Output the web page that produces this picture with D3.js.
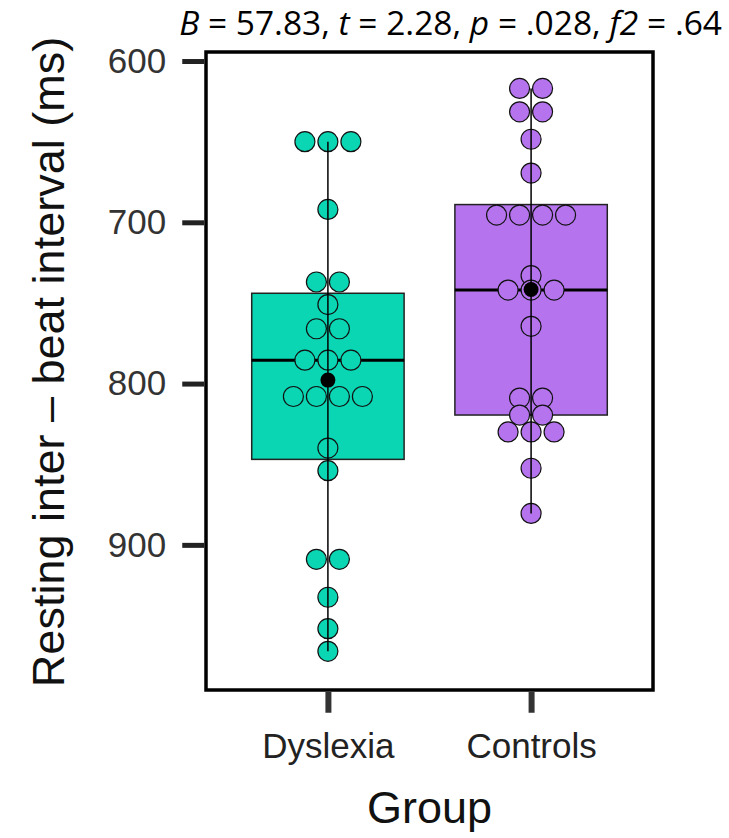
<!DOCTYPE html>
<html>
<head>
<meta charset="utf-8">
<script src="https://cdn.jsdelivr.net/npm/d3@7"></script>
<style>
  body { margin: 0; background: #fff; }
  svg { display: block; }
</style>
</head>
<body>
<div class="chart"></div>
<script>
// groups and their raw values (resting inter-beat interval, ms)
let groups = ["Dyslexia", "Controls"];
let dyslexiaIBI = [650, 650, 650, 692, 737, 737, 751, 766, 766, 785.5, 785.5, 785.5,
    808, 808, 808, 808, 840, 854, 909, 909, 932.5, 952, 966];
let controlsIBI = [617, 617, 631.5, 631.5, 648.5, 669.5, 695.5, 695.5, 695.5, 695.5,
    733, 742, 742, 742, 764.5, 809, 809, 819.5, 819.5, 830, 830, 830, 852.5, 880.5];
let groupColors = ["#0AD6B4", "#B574EE"];
let yTicks = [600, 700, 800, 900];
let titleParts = [
    { t: "B", it: true }, { t: " = 57.83, " }, { t: "t", it: true }, { t: " = 2.28, " },
    { t: "p", it: true }, { t: " = .028, " }, { t: "f2", it: true }, { t: " = .64" }
];

let width = 729, height = 838;
let panel = { left: 206, right: 653, top: 52, bottom: 690 };

let svg = d3.select(".chart").append("svg").attr("width", width).attr("height", height);

let x = d3.scalePoint().domain(groups).range([panel.left, panel.right]).padding(0.6);
let y = d3.scaleLinear().domain([594.4, 990]).range([panel.top, panel.bottom]);
let boxW = x.step() * 0.75;
let dotR = 10, dotStep = 23;

let data = [dyslexiaIBI, controlsIBI].map(function (vals, i) {
    let s = vals.slice().sort(d3.ascending);
    return {
        group: groups[i],
        color: groupColors[i],
        values: s,
        q1: d3.quantile(s, 0.25),
        med: d3.quantile(s, 0.5),
        q3: d3.quantile(s, 0.75),
        min: d3.min(s),
        max: d3.max(s),
        mean: d3.mean(s)
    };
});

// boxes
let g = svg.selectAll(".grp").data(data).enter().append("g").attr("class", "grp");
g.append("rect")
    .attr("x", d => x(d.group) - boxW / 2)
    .attr("width", boxW)
    .attr("y", d => y(d.q1))
    .attr("height", d => y(d.q3) - y(d.q1))
    .style("fill", d => d.color)
    .style("stroke", "#222")
    .style("stroke-width", 1.5);
g.append("line")
    .attr("x1", d => x(d.group) - boxW / 2)
    .attr("x2", d => x(d.group) + boxW / 2)
    .attr("y1", d => y(d.med)).attr("y2", d => y(d.med))
    .style("stroke", "#000").style("stroke-width", 3);

// centred dot stacks: equal values share a row
g.each(function (d) {
    let rows = d3.groups(d.values, v => v);
    let pts = [];
    rows.forEach(function ([v, arr]) {
        arr.forEach(function (_, k) {
            pts.push({ v: v, off: (k - (arr.length - 1) / 2) * dotStep });
        });
    });
    d3.select(this).selectAll("circle.dot").data(pts).enter().append("circle")
        .attr("class", "dot")
        .attr("cx", p => x(d.group) + p.off)
        .attr("cy", p => y(p.v))
        .attr("r", dotR)
        .style("fill", d.color)
        .style("stroke", "#111")
        .style("stroke-width", 1.2);
});

// whisker line through everything, then the mean
g.append("line")
    .attr("x1", d => x(d.group)).attr("x2", d => x(d.group))
    .attr("y1", d => y(d.min)).attr("y2", d => y(d.max))
    .style("stroke", "#000").style("stroke-width", 1.5);
g.append("circle")
    .attr("cx", d => x(d.group))
    .attr("cy", d => y(d.mean))
    .attr("r", 7.5)
    .style("fill", "#000");

// panel border
svg.append("rect")
    .attr("x", panel.left).attr("y", panel.top)
    .attr("width", panel.right - panel.left).attr("height", panel.bottom - panel.top)
    .style("fill", "none").style("stroke", "#000").style("stroke-width", 3.5);

// y axis
let yAxis = svg.append("g").attr("transform", "translate(" + (panel.left - 1.75) + ",0)")
    .call(d3.axisLeft(y).tickValues(yTicks).tickSize(22).tickPadding(16));
yAxis.select(".domain").remove();
yAxis.selectAll(".tick line").style("stroke", "#222").style("stroke-width", 5);
yAxis.selectAll(".tick text")
    .style("font-family", "Liberation Sans, Arial, sans-serif")
    .style("font-size", "35px").style("fill", "#333");

// x axis
let xAxis = svg.append("g").attr("transform", "translate(0," + (panel.bottom + 1.75) + ")")
    .call(d3.axisBottom(x).tickSize(21).tickPadding(20));
xAxis.select(".domain").remove();
xAxis.selectAll(".tick line").style("stroke", "#333").style("stroke-width", 6);
xAxis.selectAll(".tick text")
    .style("font-family", "Liberation Sans, Arial, sans-serif")
    .style("font-size", "35px").style("fill", "#222");

// axis titles
svg.append("text")
    .attr("transform", "translate(64," + ((panel.top + panel.bottom) / 2 - 9) + ") rotate(-90)")
    .attr("text-anchor", "middle")
    .style("font-family", "Liberation Sans, Arial, sans-serif")
    .style("font-size", "45px").style("fill", "#111")
    .text("Resting inter \u2013 beat interval (ms)");
svg.append("text")
    .attr("x", x.range()[0] + (x.range()[1] - x.range()[0]) / 2)
    .attr("y", 823)
    .attr("text-anchor", "middle")
    .style("font-family", "Liberation Sans, Arial, sans-serif")
    .style("font-size", "45px").style("fill", "#111")
    .text("Group");

// stats title
let title = svg.append("text")
    .attr("x", 722).attr("y", 35)
    .attr("text-anchor", "end")
    .style("font-family", "Open Sans, sans-serif")
    .style("font-size", "33.5px").style("fill", "#000");
title.selectAll("tspan").data(titleParts).enter().append("tspan")
    .style("font-style", d => d.it ? "italic" : "normal")
    .text(d => d.t);
</script>
</body>
</html>
